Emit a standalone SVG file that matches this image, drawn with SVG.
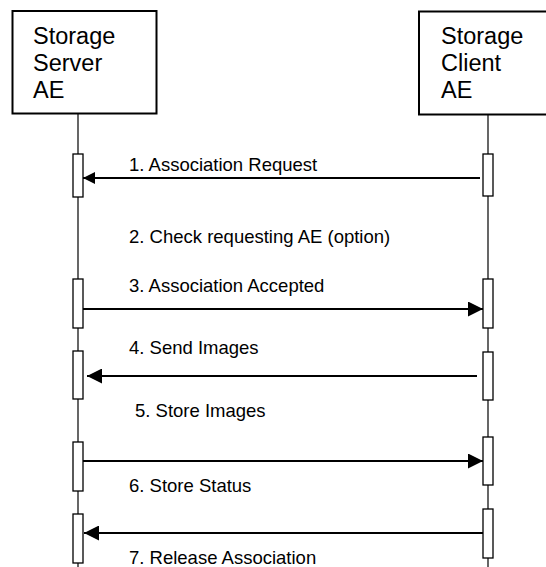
<svg xmlns="http://www.w3.org/2000/svg" width="546" height="567" viewBox="0 0 546 567">
<style>
.bg{fill:#fff}
.actor{fill:#fff;stroke:#000;stroke-width:2}
.atxt{font-family:"Liberation Sans",Arial,sans-serif;font-size:23.5px;fill:#000}
.life{stroke:#000;stroke-width:1.2;fill:none}
.act{fill:#fff;stroke:#000;stroke-width:1.3}
.msg{stroke:#000;stroke-width:2;fill:none}
.mtxt{font-family:"Liberation Sans",Arial,sans-serif;font-size:18.5px;fill:#000}
</style>
<defs>
<marker id="ah" viewBox="0 0 10 10" refX="10" refY="5" markerUnits="userSpaceOnUse" markerWidth="15" markerHeight="15" orient="auto">
<path d="M0,0 L10,5 L0,10 z" fill="#000"/>
</marker>
<marker id="ahs" viewBox="0 0 10 10" refX="10" refY="5" markerUnits="userSpaceOnUse" markerWidth="12" markerHeight="13" orient="auto">
<path d="M0,0 L10,5 L0,10 z" fill="#000"/>
</marker>
</defs>
<rect class="bg" x="0" y="0" width="546" height="567"/>
<g id="lifelines">
<line class="life" x1="78" y1="113" x2="78" y2="567"/>
<line class="life" x1="488" y1="115" x2="488" y2="567"/>
</g>
<g id="server">
<rect class="actor" x="12.5" y="11" width="144" height="102.5"/>
<text class="atxt" x="33" y="43.5">Storage</text>
<text class="atxt" x="33" y="71">Server</text>
<text class="atxt" x="33" y="98">AE</text>
</g>
<g id="client">
<rect class="actor" x="419" y="11.5" width="140" height="103"/>
<text class="atxt" x="441" y="43.5">Storage</text>
<text class="atxt" x="441" y="71">Client</text>
<text class="atxt" x="441" y="98">AE</text>
</g>
<g id="activations">
<rect class="act" x="73" y="154" width="10" height="43"/>
<rect class="act" x="73" y="279" width="10" height="49"/>
<rect class="act" x="73" y="351" width="10" height="48"/>
<rect class="act" x="73" y="442" width="10" height="49"/>
<rect class="act" x="73" y="514" width="10" height="49"/>
<rect class="act" x="483" y="154" width="10" height="42"/>
<rect class="act" x="483" y="279" width="10" height="49"/>
<rect class="act" x="483" y="352" width="10" height="48"/>
<rect class="act" x="483" y="437" width="10" height="48"/>
<rect class="act" x="483" y="509" width="10" height="49"/>
</g>
<g id="connectors">
<line class="msg" x1="480" y1="178" x2="83" y2="178" marker-end="url(#ahs)"/>
<line class="msg" x1="83" y1="309" x2="483" y2="309" marker-end="url(#ah)"/>
<line class="msg" x1="477" y1="376" x2="87" y2="376" marker-end="url(#ah)"/>
<line class="msg" x1="83" y1="461" x2="483" y2="461" marker-end="url(#ah)"/>
<line class="msg" x1="483" y1="533" x2="84" y2="533" marker-end="url(#ah)"/>
</g>
<g id="labels">
<text class="mtxt" x="129" y="171">1. Association Request</text>
<text class="mtxt" x="129" y="243">2. Check requesting AE (option)</text>
<text class="mtxt" x="129" y="291.5">3. Association Accepted</text>
<text class="mtxt" x="129" y="353.5">4. Send Images</text>
<text class="mtxt" x="135" y="417">5. Store Images</text>
<text class="mtxt" x="129" y="492">6. Store Status</text>
<text class="mtxt" x="129" y="564">7. Release Association</text>
</g>
</svg>
